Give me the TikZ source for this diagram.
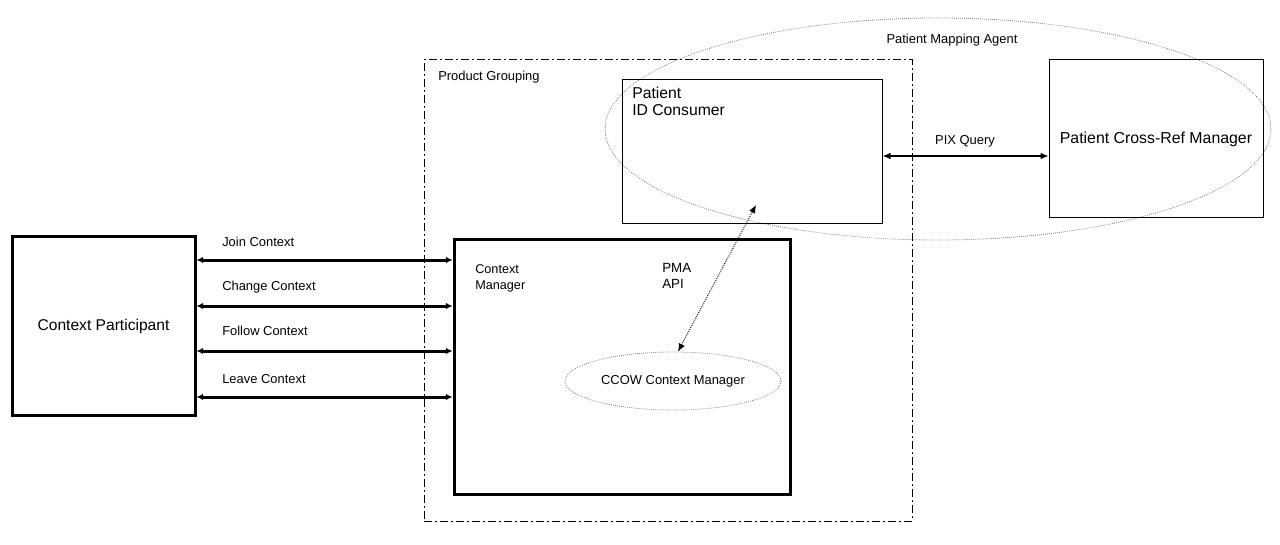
\documentclass[tikz,border=0pt]{standalone}
\usepackage{fontspec}
\setmainfont{Liberation Sans}
\usetikzlibrary{arrows.meta,shapes.geometric}
\begin{document}
\begin{tikzpicture}[x=0.75pt,y=-0.75pt,
  thinbox/.style={draw,line width=0.75pt,inner sep=0pt},
  thickbox/.style={draw,line width=2.25pt,inner sep=0pt},
  grp/.style={draw,line width=0.75pt,dash pattern=on 6pt off 2.5pt on 1pt off 2.5pt,inner sep=0pt},
  dotell/.style={draw=gray,line width=0.6pt,dash pattern=on 0.6pt off 0.9pt,ellipse,inner sep=0pt},
  lbl/.style={font=\fontsize{9.7}{11}\selectfont,inner sep=0pt},
  thickarrow/.style={line width=2.25pt,{Latex[length=5pt,width=5pt]}-{Latex[length=5pt,width=5pt]}},
  thinarrow/.style={line width=0.9pt,{Latex[length=6pt,width=5pt]}-{Latex[length=6pt,width=5pt]}},
  dotarrow/.style={line width=0.7pt,dash pattern=on 0.7pt off 0.9pt,{Latex[length=6pt,width=5pt]}-{Latex[length=6pt,width=5pt]}}]
\useasboundingbox[fill=white] (0,0) rectangle (1280,545);

% big ellipse
\node[dotell,minimum width=666*0.75pt,minimum height=222*0.75pt] (pma) at (938,129) {};
\node[lbl] (pmalbl) at (952,40) {Patient Mapping Agent};

% product grouping
\node[grp,minimum width=488*0.75pt,minimum height=461*0.75pt] (pg) at (668,290.5) {};
\node[lbl,anchor=north west] (pglbl) at (438,71) {Product Grouping};

% patient id consumer
\node[thinbox,minimum width=260*0.75pt,minimum height=144*0.75pt] (pid) at (752,152) {};
\node[font=\fontsize{11.8}{13}\selectfont,anchor=north west,align=left,inner sep=0pt] (pidlbl) at (632,87) {Patient\\ID Consumer};

% cross-ref manager
\node[thinbox,minimum width=214*0.75pt,minimum height=158*0.75pt,font=\fontsize{11.9}{13}\selectfont] (xref) at (1156,139) {Patient Cross-Ref Manager};

% context participant
\node[thickbox,minimum width=183*0.75pt,minimum height=178*0.75pt,font=\fontsize{11.7}{13}\selectfont] (cp) at (103.5,326) {Context Participant};

% context manager
\node[thickbox,minimum width=336*0.75pt,minimum height=254*0.75pt] (cm) at (622,367) {};
\node[lbl,anchor=north west,align=left,font=\fontsize{9.5}{12}\selectfont] (cmlbl) at (475,264) {Context\\Manager};
\node[lbl,anchor=north west,align=left,font=\fontsize{10}{12}\selectfont] (api) at (662,263) {PMA\\API};

% CCOW ellipse
\node[dotell,minimum width=216*0.75pt,minimum height=58*0.75pt,font=\fontsize{9.7}{11}\selectfont] (ccow) at (673,381) {CCOW Context Manager};

% context arrows
\foreach \yy/\txt/\ly in {260/Join Context/242, 306/Change Context/287, 351/Follow Context/331, 397/Leave Context/379}{
  \draw[thickarrow] (cp.east |- 0,\yy) -- (cm.west |- 0,\yy);
  \node[lbl,anchor=west] at (222,\ly) {\txt};
}

% PIX query
\draw[thinarrow] (pid.east |- 0,156) -- (xref.west |- 0,156);
\node[lbl] (pix) at (965,141) {PIX Query};

% PMA API
\coordinate (apiend) at (756,205);
\draw[dotarrow] (ccow.north) ++(5,0) -- (apiend);
\end{tikzpicture}
\end{document}
